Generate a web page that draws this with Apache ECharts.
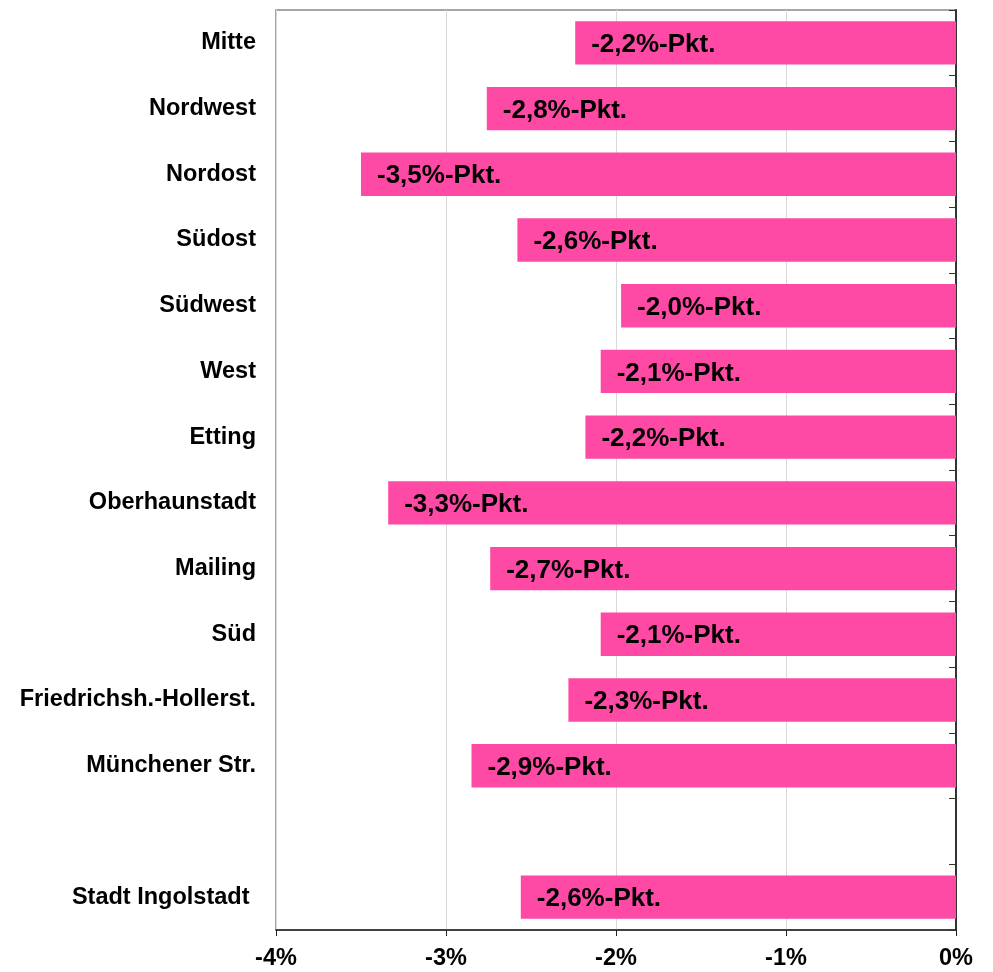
<!DOCTYPE html>
<html>
<head>
<meta charset="utf-8">
<script src="https://cdn.jsdelivr.net/npm/echarts@6/dist/echarts.min.js"></script>
<style>
html,body{margin:0;padding:0;background:#fff;}
#chart{width:993px;height:972px;}
</style>
</head>
<body>
<div id="chart"></div>
<script>
const categories = ['Mitte','Nordwest','Nordost','Südost','Südwest','West','Etting','Oberhaunstadt','Mailing','Süd','Friedrichsh.-Hollerst.','Münchener Str.','','Stadt Ingolstadt '];
const values = [-2.24, -2.76, -3.5, -2.58, -1.97, -2.09, -2.18, -3.34, -2.74, -2.09, -2.28, -2.85, null, -2.56];
const labels = ['-2,2%-Pkt.','-2,8%-Pkt.','-3,5%-Pkt.','-2,6%-Pkt.','-2,0%-Pkt.','-2,1%-Pkt.','-2,2%-Pkt.','-3,3%-Pkt.','-2,7%-Pkt.','-2,1%-Pkt.','-2,3%-Pkt.','-2,9%-Pkt.','','-2,6%-Pkt.'];
const xTicks = [-4, -3, -2, -1, 0];

const font = 'Liberation Sans, Arial, sans-serif';
const chart = echarts.init(document.getElementById('chart'), null, {renderer:'canvas'});
chart.setOption({
  animation: false,
  grid: {left: 276, right: 37, top: 10, bottom: 42, show: true, borderColor: '#888', borderWidth: 1.5, containLabel: false},
  xAxis: {
    type: 'value', min: xTicks[0], max: xTicks[xTicks.length-1], interval: 1,
    axisLine: {show: true, onZero: false, lineStyle: {color: '#222', width: 1.5}},
    axisTick: {show: true, length: 6, lineStyle: {color: '#222'}},
    axisLabel: {formatter: v => v + '%', fontFamily: font, fontWeight: 'bold', fontSize: 23.5, color: '#000', margin: 17},
    splitLine: {show: true, lineStyle: {color: '#d9d9d9', width: 1}}
  },
  yAxis: [{
    type: 'category', data: categories, inverse: true, position: 'left',
    axisLine: {show: false}, axisTick: {show: false},
    axisLabel: {fontFamily: font, fontWeight: 'bold', fontSize: 23.5, color: '#000', margin: 20, padding: [4, 0, 0, 0]}
  }, {
    type: 'category', data: categories, inverse: true, position: 'right',
    axisLine: {show: true, lineStyle: {color: '#333', width: 2}},
    axisTick: {show: true, inside: true, length: 7, lineStyle: {color: '#333'}},
    axisLabel: {show: false}
  }],
  series: [{
    type: 'bar', yAxisIndex: 0, barCategoryGap: '34%',
    data: values,
    itemStyle: {color: '#ff4aa5'},
    label: {show: true, position: 'insideLeft', distance: 16, offset: [0, 2],
      formatter: p => labels[p.dataIndex],
      fontFamily: font, fontWeight: 'bold', fontSize: 26, color: '#000'}
  }]
});
</script>
</body>
</html>
